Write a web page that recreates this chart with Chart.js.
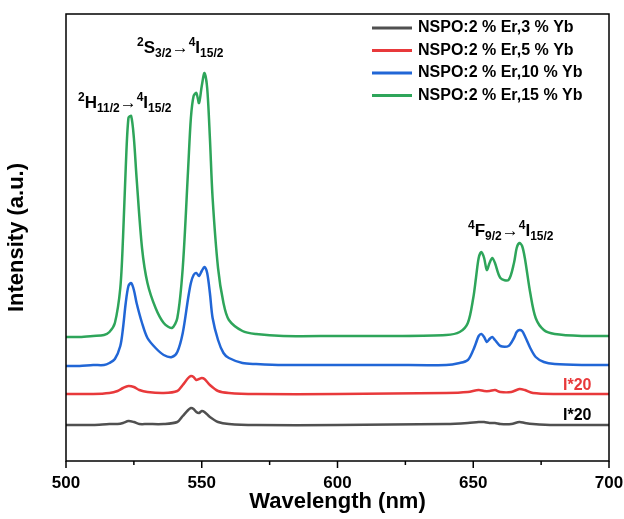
<!DOCTYPE html>
<html><head><meta charset="utf-8">
<script src="https://cdn.jsdelivr.net/npm/chart.js@4/dist/chart.umd.min.js"></script>
<style>body{margin:0;background:#fff}#wrap{width:624px;height:519px}</style>
</head><body><div id="wrap"><canvas id="chart1"></canvas></div>
<script>
const wl_big = [500,505,510,514,516,518,520,521,522,523,524,525,526,528,530,533,536,539,541,543,545,546,547,548,549,550,551,552,553,554,556,558,560,565,570,580,600,620,640,645,648,650,651,652,653,654,655,656,657,658,660,663,665,666,667,668,669,671,673,676,680,690,700];
const green = [121,121,122,123,126,135,170,220,290,340,342,320,280,210,175,150,135,130,140,190,290,340,362,365,355,372,385,370,320,260,190,155,138,127,124,122,122,122,123,126,135,160,180,200,206,200,188,195,200,195,180,178,195,210,215,212,200,165,140,128,124,122,122];
const blue = [92,92,93,93,95,99,112,130,155,172,175,168,155,135,120,110,103,101,106,125,160,175,183,185,182,187,191,185,165,140,118,105,100,95,94,93,93,93,93,95,98,108,115,122,124,121,116,119,121,118,112,112,120,126,128,127,122,110,101,96,94,93,93];
const wl_small = [500,510,516,519,521,523,525,527,530,536,541,543,545,546,547,548,549,550,551,553,556,560,570,600,640,648,652,654,656,658,660,664,667,669,672,680,700];
const red = [64,64,65,67,70,72,71,68,66,65,67,73,80,82,81,78,79,80,79,73,67,65,64,64,65,66,68,67,67,68,66,66,69,68,65,64,64];
const black = [33,33,34,34,35,37,36,34,34,34,36,42,48,50,49,46,45,47,46,41,36,34,33,33,34,35,36,36,35,35,34,34,36,35,34,33,33];
const seriesNames = ['NSPO:2 % Er,3 % Yb','NSPO:2 % Er,5 % Yb','NSPO:2 % Er,10 % Yb','NSPO:2 % Er,15 % Yb'];
const seriesColors = ['#505050','#e8393b','#2166d6','#2ea55a'];
const xTicks = [500,550,600,650,700];

function pts(xs, ys) { return xs.map((x, i) => ({x: x, y: ys[i]})); }

function drawRich(ctx, x, y, parts) {
	// parts: [text, 'n' | 'sup' | 'sub']
	for (const p of parts) {
		let size = p[1] == 'n' ? 17 : 12;
		let dy = p[1] == 'sup' ? -7 : (p[1] == 'sub' ? 4 : 0);
		ctx.font = 'bold ' + size + 'px "Liberation Sans", Arial';
		ctx.fillText(p[0], x, y + dy);
		x += ctx.measureText(p[0]).width;
	}
}

const extras = {
	id: 'extras',
	afterDraw(chart) {
		const ctx = chart.ctx, a = chart.chartArea;
		ctx.save();
		ctx.strokeStyle = '#000'; ctx.lineWidth = 1.5;
		ctx.strokeRect(a.left, a.top, a.right - a.left, a.bottom - a.top);
		const xs = chart.scales.x;
		for (let v = 500; v <= 700; v += 25) {
			const px = xs.getPixelForValue(v);
			ctx.beginPath(); ctx.moveTo(px, a.bottom); ctx.lineTo(px, a.bottom + (v % 50 == 0 ? 7 : 4)); ctx.stroke();
		}
		// legend
		ctx.textBaseline = 'middle';
		ctx.fillStyle = '#000';
		for (let i = 0; i < 4; i++) {
			const y = 28 + i * 22.5;
			ctx.strokeStyle = seriesColors[i]; ctx.lineWidth = 3;
			ctx.beginPath(); ctx.moveTo(372, y); ctx.lineTo(412, y); ctx.stroke();
			ctx.font = 'bold 16px "Liberation Sans", Arial';
			ctx.fillText(seriesNames[i], 418, y);
		}
		ctx.textBaseline = 'alphabetic';
		drawRich(ctx, 78, 108, [['2','sup'],['H','n'],['11/2','sub'],['→','n'],['4','sup'],['I','n'],['15/2','sub']]);
		drawRich(ctx, 137, 53, [['2','sup'],['S','n'],['3/2','sub'],['→','n'],['4','sup'],['I','n'],['15/2','sub']]);
		drawRich(ctx, 468, 236, [['4','sup'],['F','n'],['9/2','sub'],['→','n'],['4','sup'],['I','n'],['15/2','sub']]);
		ctx.font = 'bold 16px "Liberation Sans", Arial';
		ctx.fillStyle = '#e8393b'; ctx.fillText('I*20', 563, 390);
		ctx.fillStyle = '#000'; ctx.fillText('I*20', 563, 420);
		ctx.restore();
	}
};

const mk = (xs, ys, i) => ({ label: seriesNames[i], data: pts(xs, ys), borderColor: seriesColors[i], borderWidth: 2.5, pointRadius: 0, tension: 0.3 });

new Chart('chart1', {
	type: 'line',
	data: { datasets: [mk(wl_small, black, 0), mk(wl_small, red, 1), mk(wl_big, blue, 2), mk(wl_big, green, 3)] },
	options: {
		animation: false, responsive: true, maintainAspectRatio: false,
		layout: { padding: { top: 14, right: 15, left: 0, bottom: 0 } },
		plugins: { legend: { display: false }, tooltip: { enabled: false } },
		scales: {
			x: {
				type: 'linear', min: 500, max: 700,
				afterBuildTicks: s => { s.ticks = xTicks.map(v => ({value: v})); },
				grid: { display: false, drawTicks: false }, border: { display: false },
				ticks: { padding: 12, color: '#000', font: { size: 17, weight: 'bold', family: '"Liberation Sans", Arial' } },
				title: { display: true, text: 'Wavelength (nm)', color: '#000', padding: { top: 14 }, font: { size: 22, weight: 'bold', family: '"Liberation Sans", Arial' } },
				afterFit: s => { s.height = 58; s.paddingRight = 0; s.paddingLeft = 0; }
			},
			y: {
				min: -3, max: 444,
				grid: { display: false }, border: { display: false },
				ticks: { display: false },
				title: { display: true, text: 'Intensity (a.u.)', color: '#000', padding: { bottom: 14 }, font: { size: 22, weight: 'bold', family: '"Liberation Sans", Arial' } },
				afterFit: s => { s.width = 66; }
			}
		}
	},
	plugins: [extras]
});
</script></body></html>
